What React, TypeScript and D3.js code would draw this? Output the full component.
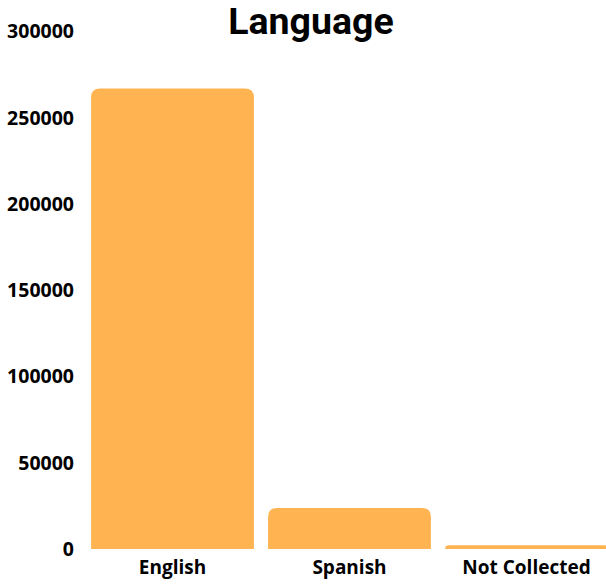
import React from "react";
import * as d3 from "d3";

const categories = ["English", "Spanish", "Not Collected"];
const values = [267000, 23800, 2200];
const yTicks = [0, 50000, 100000, 150000, 200000, 250000, 300000];
const title = "Language";

export default function App() {
  const W = 606, H = 586;
  const x = d3.scaleBand<string>().domain(categories).range([84, 615]).paddingInner(0.08).paddingOuter(0.04);
  const y = d3.scaleLinear().domain([0, 300000]).range([549, 31.5]);
  const r = 9;
  const barPath = (c: string, v: number) => {
    const x0 = x(c)!;
    const w = x.bandwidth();
    const y0 = y(0);
    const y1 = y(v);
    const h = y0 - y1;
    const rr = Math.min(r, h, w / 2);
    const p = d3.path();
    p.moveTo(x0, y0);
    p.lineTo(x0, y1 + rr);
    p.quadraticCurveTo(x0, y1, x0 + rr, y1);
    p.lineTo(x0 + w - rr, y1);
    p.quadraticCurveTo(x0 + w, y1, x0 + w, y1 + rr);
    p.lineTo(x0 + w, y0);
    p.closePath();
    return p.toString();
  };
  return (
    <svg width={W} height={H} style={{ position: "absolute", left: 0, top: 0, background: "#fff" }}>
      <text x={311} y={34} textAnchor="middle" fontFamily="Roboto" fontWeight="bold" fontSize={37.5} fill="#000">{title}</text>
      {yTicks.map((t) => (
        <text key={t} x={74} y={y(t)} dy="0.35em" textAnchor="end" fontFamily="'Open Sans'" fontWeight="bold" fontSize={19.5} fill="#000">{t}</text>
      ))}
      {categories.map((c, i) => (
        <path key={c} d={barPath(c, values[i])} fill="#FFB451" />
      ))}
      {categories.map((c) => (
        <text key={c} x={x(c)! + x.bandwidth() / 2} y={574} textAnchor="middle" fontFamily="'Open Sans'" fontWeight="bold" fontSize={19} fill="#000">{c}</text>
      ))}
    </svg>
  );
}
